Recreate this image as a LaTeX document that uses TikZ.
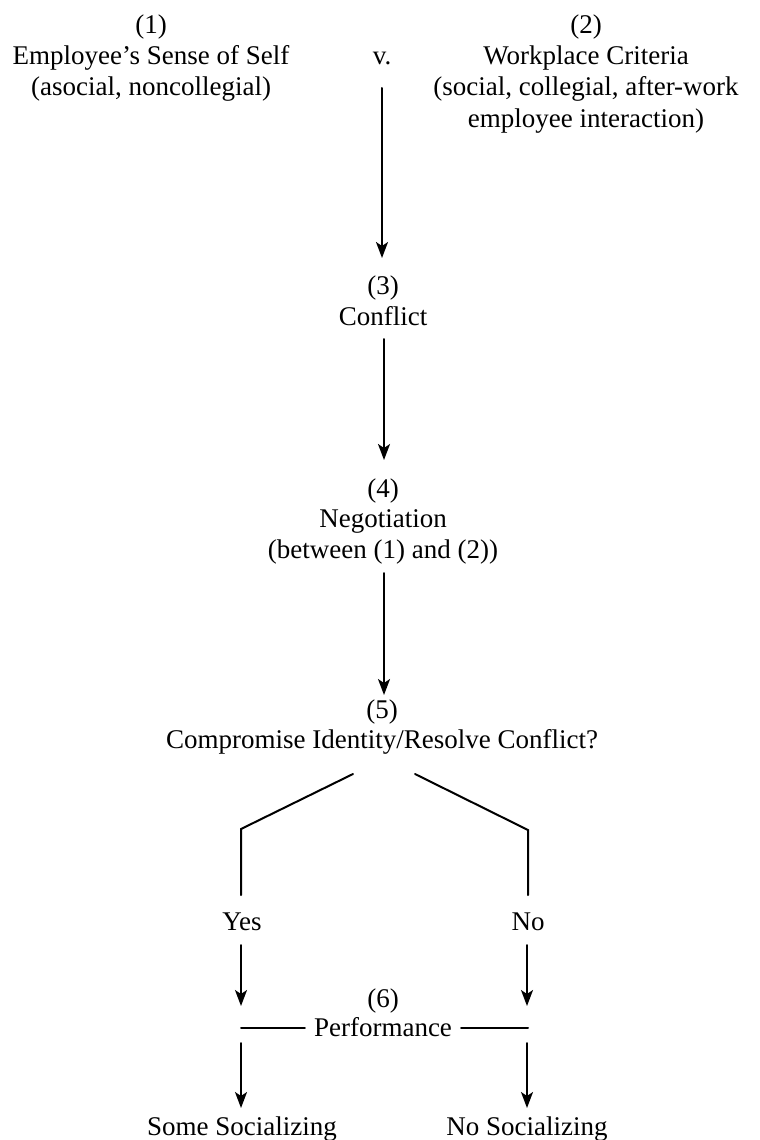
\documentclass[tikz,border=0pt]{standalone}
\usepackage{fontspec}
\setmainfont{Liberation Serif}
\usetikzlibrary{arrows.meta}
\begin{document}
\begin{tikzpicture}[x=1pt,y=-1pt,
  txt/.style={anchor=base,inner sep=0pt,font=\fontsize{27}{33}\selectfont},
  conn/.style={line width=2pt,line cap=round,line join=miter},
  arr/.style={conn,-{Stealth[length=16pt,width=12pt,inset=4pt]}}]
\useasboundingbox (0,0) rectangle (760,1140);
% top blocks
\node[txt] (n1a) at (151,34) {(1)};
\node[txt] (n1b) at (151,64) {Employee’s Sense of Self};
\node[txt] (n1c) at (151,95) {(asocial, noncollegial)};
\node[txt] (v) at (382,64) {v.};
\node[txt] (n2a) at (586,34) {(2)};
\node[txt] (n2b) at (586,64) {Workplace Criteria};
\node[txt] (n2c) at (586,95) {(social, collegial, after-work};
\node[txt] (n2d) at (586,127) {employee interaction)};
% conflict
\node[txt] (n3a) at (383,294) {(3)};
\node[txt] (n3b) at (383,325) {Conflict};
% negotiation
\node[txt] (n4a) at (383,497) {(4)};
\node[txt] (n4b) at (383,527) {Negotiation};
\node[txt] (n4c) at (383,558) {(between (1) and (2))};
% compromise
\node[txt] (n5a) at (382,718) {(5)};
\node[txt] (n5b) at (382,748) {Compromise Identity/Resolve Conflict?};
% yes/no
\node[txt] (yes) at (242,930) {Yes};
\node[txt] (no) at (528,930) {No};
% performance
\node[txt] (n6a) at (383,1007) {(6)};
\node[txt,inner xsep=9pt] (perf) at (383,1036) {Performance};
% outcomes
\node[txt] (some) at (242,1135) {Some Socializing};
\node[txt] (nosoc) at (527,1135) {No Socializing};
% coordinates
\coordinate (a1s) at (382,88);
\coordinate (a1e) at (382,258);
\coordinate (a2s) at (384,339);
\coordinate (a2e) at (384,460);
\coordinate (a3s) at (384,573);
\coordinate (a3e) at (384,695);
\coordinate (bl0) at (353,774);
\coordinate (bl1) at (241,829);
\coordinate (bl2) at (241,895);
\coordinate (br0) at (415,774);
\coordinate (br1) at (528,830);
\coordinate (br2) at (528,895);
\coordinate (ys) at (241,945);
\coordinate (ye) at (241,1006);
\coordinate (ns) at (527,945);
\coordinate (ne) at (527,1006);
\coordinate (pl) at (241,1028);
\coordinate (pr) at (528,1028);
\coordinate (ss) at (241,1043);
\coordinate (se) at (241,1108);
\coordinate (nss) at (527,1043);
\coordinate (nse) at (527,1108);
% connectors
\draw[arr] (a1s) -- (a1e);
\draw[arr] (a2s) -- (a2e);
\draw[arr] (a3s) -- (a3e);
\draw[conn] (bl0) -- (bl1) -- (bl2);
\draw[conn] (br0) -- (br1) -- (br2);
\draw[arr] (ys) -- (ye);
\draw[arr] (ns) -- (ne);
\draw[conn] (pl) -- (perf.west |- pl);
\draw[conn] (perf.east |- pr) -- (pr);
\draw[arr] (ss) -- (se);
\draw[arr] (nss) -- (nse);
\end{tikzpicture}
\end{document}
